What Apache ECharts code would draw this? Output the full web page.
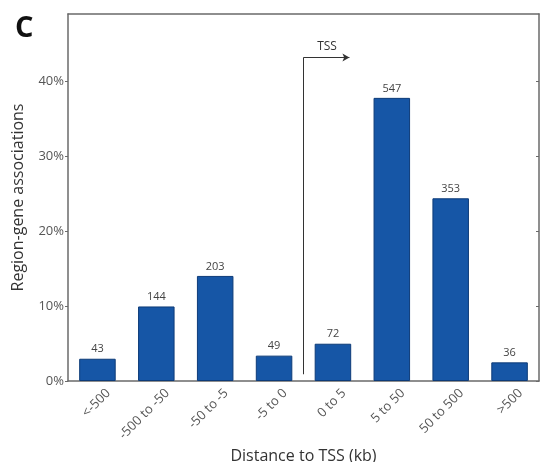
<!DOCTYPE html>
<html>
<head>
<meta charset="utf-8">
<script src="https://cdn.jsdelivr.net/npm/echarts@6/dist/echarts.min.js"></script>
<style>
  html, body { margin: 0; padding: 0; background: #fff; }
  #chart { width: 541px; height: 462px; }
</style>
</head>
<body>
<div id="chart"></div>
<script>
// Distance bins relative to the transcription start site (kb)
const categories = ['<-500', '-500 to -50', '-50 to -5', '-5 to 0', '0 to 5', '5 to 50', '50 to 500', '>500'];
// Number of region-gene associations in each bin
const counts = [43, 144, 203, 49, 72, 547, 353, 36];
// Percentage ticks on the y axis
const yTicks = [0, 10, 20, 30, 40];

const total = counts.reduce((a, b) => a + b, 0);
const percents = counts.map(c => c / total * 100);

const textFont = 'Open Sans';
const axisColor = '#6a6a6a';

const chart = echarts.init(document.getElementById('chart'));
chart.setOption({
  animation: false,
  backgroundColor: '#fff',
  textStyle: { fontFamily: textFont },
  title: {
    text: 'C',
    left: 10,
    top: 9,
    textStyle: { fontSize: 29, fontWeight: 'bold', color: '#111', fontFamily: textFont }
  },
  grid: { left: 68, right: 2, top: 14, bottom: 81, outerBoundsMode: 'none', containLabel: false },
  xAxis: [
    {
      type: 'category',
      data: categories,
      position: 'bottom',
      name: 'Distance to TSS (kb)',
      nameLocation: 'middle',
      nameGap: 59,
      nameTextStyle: { fontSize: 16, color: '#333' },
      axisLine: { lineStyle: { color: axisColor, width: 1.5 } },
      axisTick: { show: false },
      axisLabel: {
        rotate: 45, fontSize: 13, color: '#555', margin: 12, interval: 0,
        // slanted labels sit so each one ends beside its bar's right edge
        verticalAlign: 'top',
        padding: [0, -9, 0, 0]
      }
    },
    {
      // helper axis spanning the category bands, used for the TSS marker
      type: 'value',
      min: 0,
      max: categories.length,
      position: 'top',
      axisLine: { show: true, onZero: false, lineStyle: { color: axisColor, width: 1.5 } },
      axisTick: { show: false },
      axisLabel: { show: false },
      splitLine: { show: false }
    }
  ],
  yAxis: [
    {
      type: 'value',
      min: 0,
      max: 49,
      position: 'left',
      name: 'Region-gene associations',
      nameLocation: 'middle',
      nameGap: 42,
      nameTextStyle: { fontSize: 16, color: '#333' },
      axisLine: { show: true, onZero: false, lineStyle: { color: axisColor, width: 1.5 } },
      axisTick: { show: true, length: 3, lineStyle: { color: axisColor }, customValues: yTicks },
      axisLabel: { fontSize: 13, color: '#555', margin: 4, formatter: v => v + '%', customValues: yTicks },
      splitLine: { show: false }
    },
    {
      type: 'value',
      min: 0,
      max: 49,
      position: 'right',
      axisLine: { show: true, onZero: false, lineStyle: { color: axisColor, width: 1.5 } },
      axisTick: { show: true, inside: true, length: 3, lineStyle: { color: axisColor }, customValues: yTicks },
      axisLabel: { show: false },
      splitLine: { show: false }
    }
  ],
  series: [
    {
      type: 'bar',
      xAxisIndex: 0,
      yAxisIndex: 0,
      data: percents.map((p, i) => ({ value: p, count: counts[i] })),
      barWidth: '62%',
      itemStyle: { color: '#1656a6', borderColor: '#0d3b78', borderWidth: 1 },
      label: {
        show: true,
        position: 'top',
        distance: 4,
        fontSize: 11,
        color: '#444',
        formatter: p => String(p.data.count)
      }
    },
    {
      // TSS marker: vertical boundary between upstream and downstream bins with arrow
      type: 'line',
      xAxisIndex: 1,
      yAxisIndex: 0,
      data: [],
      markLine: {
        silent: true,
        animation: false,
        lineStyle: { color: '#333', width: 1, type: 'solid' },
        data: [
          [
            { coord: [4, 0.9], symbol: 'none' },
            { coord: [4, 43.2], symbol: 'none' }
          ],
          [
            { coord: [4, 43.2], symbol: 'none' },
            {
              coord: [4.78, 43.2],
              symbol: 'arrow',
              symbolSize: [6, 7]
            }
          ]
        ],
        label: { show: false }
      }
    }
  ],
  graphic: []
});

// "TSS" caption above the arrow, placed through the axis scales
const tssPos = chart.convertToPixel({ xAxisIndex: 1, yAxisIndex: 0 }, [4.4, 43.2]);
chart.setOption({
  graphic: [{
    type: 'text',
    x: tssPos[0],
    y: tssPos[1] - 11,
    style: { text: 'TSS', fontSize: 12, fill: '#333', align: 'center', verticalAlign: 'middle', fontFamily: textFont }
  }]
});
</script>
</body>
</html>
